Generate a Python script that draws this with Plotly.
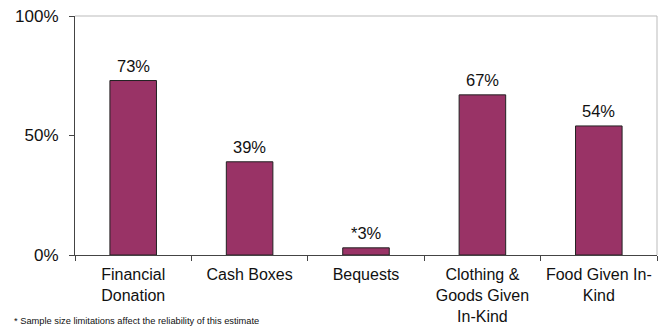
import plotly.graph_objects as go

# Share of respondents using each giving method
categories = [
    "Financial<br>Donation",
    "Cash Boxes",
    "Bequests",
    "Clothing &<br>Goods Given<br>In-Kind",
    "Food Given In-<br>Kind",
]
values = [73, 39, 3, 67, 54]
value_prefix = ["", "", "*", "", ""]  # * marks an unreliable estimate
y_ticks = [0, 50, 100]
y_tick_labels = ["0%", "50%", "100%"]
footnote = "* Sample size limitations affect the reliability of this estimate"

FONT = "Liberation Sans, Arial, Helvetica, sans-serif"
BAR_COLOR = "#993366"

fig = go.Figure(
    go.Bar(
        x=categories,
        y=values,
        width=0.4,
        marker=dict(color=BAR_COLOR, line=dict(color="#222222", width=1)),
        hoverinfo="skip",
    )
)

# value labels above each bar
for cat, v, p in zip(categories, values, value_prefix):
    fig.add_annotation(
        x=cat, y=v, text=f"{p}{v}%", showarrow=False,
        yanchor="bottom", yshift=4,
        font=dict(family=FONT, size=16.5, color="#111111"),
    )

fig.add_annotation(
    xref="paper", yref="paper", x=-0.108, y=-0.275,
    xanchor="left", yanchor="middle", text=footnote, showarrow=False,
    font=dict(family=FONT, size=9.3, color="#111111"),
)

# light frame on the top and right of the plot area
fig.add_shape(type="line", xref="paper", yref="paper", x0=0, x1=1, y0=1, y1=1,
              line=dict(color="#bbbbbb", width=1))
fig.add_shape(type="line", xref="paper", yref="paper", x0=1, x1=1, y0=0, y1=1,
              line=dict(color="#bbbbbb", width=1))

fig.update_layout(
    width=667, height=328,
    margin=dict(l=75, r=10, t=16, b=73, autoexpand=False),
    paper_bgcolor="white", plot_bgcolor="white",
    showlegend=False,
    font=dict(family=FONT, color="#111111"),
    xaxis=dict(
        type="category", tickson="boundaries",
        ticks="outside", ticklen=5, tickcolor="#444444",
        showline=True, linecolor="#444444", linewidth=1,
        showgrid=False, tickfont=dict(size=16, family=FONT, color="#111111"),
        tickangle=0, automargin=False,
        ticklabelstandoff=5,
        range=[-0.5, 4.5], fixedrange=True,
    ),
    yaxis=dict(
        range=[0, 100], tickvals=y_ticks, ticktext=y_tick_labels,
        ticks="outside", ticklen=5, tickcolor="#444444",
        showline=True, linecolor="#444444", linewidth=1,
        showgrid=False, zeroline=False, automargin=False,
        tickfont=dict(size=17, family=FONT, color="#111111"),
        ticklabelstandoff=7, fixedrange=True,
    ),
)

fig.write_html("out.html")
